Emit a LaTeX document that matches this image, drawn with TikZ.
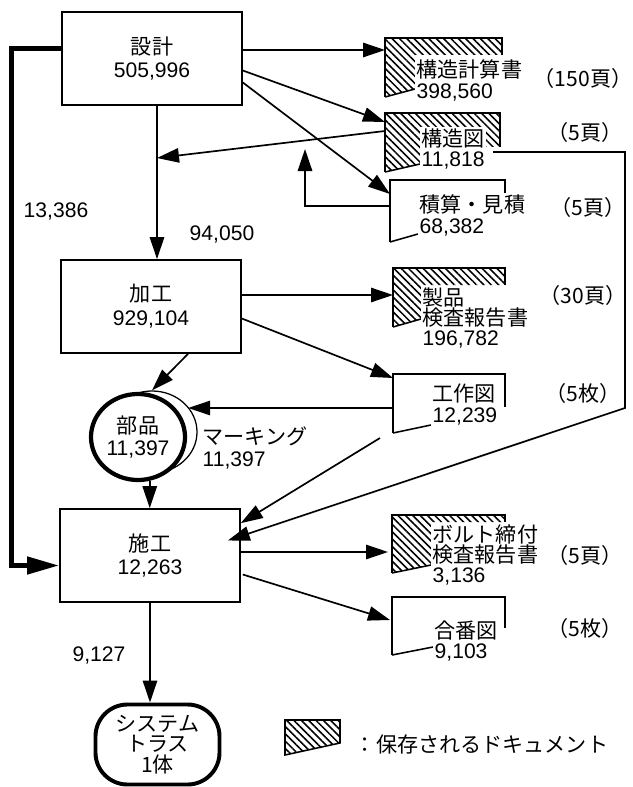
\documentclass[tikz,border=0pt]{standalone}
\usepackage{fontspec}
\setmainfont{Liberation Sans}
\newfontfamily\jp{Noto Sans CJK JP}
\usepackage{tikz}
\usetikzlibrary{
    arrows.meta,
    positioning,
    calc,
    patterns.meta,
    shapes.geometric
}
\tikzset{
    every node/.style={font=\fontsize{15}{17}\selectfont},
    box/.style={draw, line width=1.1pt, fill=white, minimum width=4.5cm, minimum height=2.33cm, align=center},
    doctext/.style={anchor=west, align=left, fill=white, inner sep=1pt, font=\fontsize{15}{14.5}\selectfont},
    arr/.style={line width=1.2pt, -{Triangle[length=0.55cm,width=0.36cm]}},
    thickarr/.style={line width=3.5pt, -{Triangle[length=0.8cm,width=0.42cm]}},
    hatch/.style={pattern={Lines[angle=-45,distance=3.7pt,line width=1.1pt]}}
}
% document sheet: [fill] left, top, right, bottom, right edge end, text edge
\newcommand{\docsheet}[7][]{%
    \path[#1] (#2,#5) -- (#2,#3) -- (#4,#3) -- (#4,#6) -- (#7,#6) -- (#7,#5-8) -- cycle;
    \draw[line width=1.1pt] (#2,#5) -- (#2,#3) -- (#4,#3) -- (#4,#6);
    \draw[line width=1.1pt] (#2,#5) -- (#7,#5-8);
}

\begin{document}
\begin{tikzpicture}[x=0.025cm, y=-0.025cm]
    \useasboundingbox (0,0) rectangle (632,787);

    % Process boxes
    \node[box] (sekkei) at (152,58.5) {{\jp 設計}\\505,996};
    \node[box] (kakou) at (151,306.5) {{\jp 加工}\\929,104};
    \node[box] (sekou) at (150,555.5) {{\jp 施工}\\12,263};
    \node[draw, line width=2.8pt, rounded corners=0.8cm, minimum width=3.1cm, minimum height=2cm,
          align=center, inner sep=0pt, font=\fontsize{15}{14.5}\selectfont\jp] (truss) at (157.5,744.5)
          {システム\\トラス\\1体};

    % Parts and marking
    \node[ellipse, draw, line width=0.9pt, fill=white, minimum width=2.25cm, minimum height=2.05cm] (mark) at (152,432) {};
    \node[ellipse, draw, line width=3pt, fill=white, minimum width=2.35cm, minimum height=2.15cm,
          inner sep=0pt, align=center, font=\fontsize{15}{15}\selectfont] (buhin) at (138,437) {{\jp 部品}\\11,397};
    \node[anchor=west, align=left, inner sep=1pt, font=\fontsize{15}{15.5}\selectfont] (marking) at (201,448) {{\jp マーキング}\\11,397};

    % Flow values
    \node (v13386) at (56,211) {13,386};
    \node (v94050) at (222,234) {94,050};
    \node (v9127) at (99,655) {9,127};

    % Documents
    \docsheet[hatch]{385}{38}{502}{97}{55}{415}
    \node[doctext] (keisan) at (415,80.5) {{\jp 構造計算書}\\398,560};
    \node[inner sep=0pt] (p1) at (583,78) {\jp （150頁）};

    \docsheet[hatch]{385}{113}{500}{172}{147}{420}
    \node[doctext] (kouzouzu) at (420,149) {{\jp 構造図}\\11,818};
    \node (p2) at (585,132) {\jp （5頁）};

    \docsheet{390}{180}{505}{242}{193}{418}
    \node[doctext] (sekisan) at (418,215.5) {{\jp 積算・見積}\\68,382};
    \node (p3) at (588,207) {\jp （5頁）};

    \docsheet[hatch]{393}{268}{505}{327}{285}{421}
    \node[doctext] (seihin) at (421,318) {{\jp 製品}\\{\jp 検査報告書}\\196,782};
    \node (p4) at (583,295) {\jp （30頁）};

    \docsheet{393}{374}{505}{433}{407}{431}
    \node[doctext] (kousakuzu) at (431,404.5) {{\jp 工作図}\\12,239};
    \node (p5) at (583,393) {\jp （5枚）};

    \docsheet[hatch]{392}{515}{505}{573}{522}{431}
    \node[doctext] (bolt) at (431,555) {{\jp ボルト締付}\\{\jp 検査報告書}\\3,136};
    \node (p6) at (585,555) {\jp （5頁）};

    \docsheet{392}{597}{505}{655}{628}{433}
    \node[doctext] (aiban) at (433,641) {{\jp 合番図}\\9,103};
    \node (p7) at (585,628) {\jp （5枚）};

    % Legend
    \path[hatch] (285,755) -- (285,720) -- (340,720) -- (340,743) -- cycle;
    \draw[line width=1.1pt] (285,755) -- (285,720) -- (340,720) -- (340,743) -- cycle;
    \node[anchor=west] (legend) at (350,744) {\jp ：保存されるドキュメント};

    % Connector ends at the documents
    \coordinate (d1in) at (385,50);
    \coordinate (d2in) at (385,122);
    \coordinate (d2back) at (385,131);
    \coordinate (d2out) at (493,152);
    \coordinate (d3in) at (390,194);
    \coordinate (d3back) at (390,206);
    \coordinate (d4in) at (393,295);
    \coordinate (d5in) at (393,378);
    \coordinate (d5back) at (393,408);
    \coordinate (d5out) at (380,438);
    \coordinate (d6in) at (388,552);
    \coordinate (d7in) at (390,620);
    \coordinate (jn) at (157,158);

    % Design
    \draw[arr] (sekkei.east |- d1in) -- (d1in);
    \draw[arr] ($(sekkei.east)+(0,12)$) -- (d2in);
    \draw[arr] ($(sekkei.east)+(0,24)$) -- (d3in);
    \draw[arr] (sekkei.south -| jn) -- (kakou.north -| jn);
    \draw[arr] (d2back) -- (jn);
    \draw[arr] (d3back) -- ++(-85,0) -- ++(0,-57);
    \draw[thickarr] ($(sekkei.west)+(0,-10)$) -- ++(-50,0) |- ($(sekou.west)+(0,10)$);

    % Fabrication
    \draw[arr] (kakou.east |- d4in) -- (d4in);
    \draw[arr] ($(kakou.east)+(0,12)$) -- (d5in);
    \draw[arr] ($(kakou.south)+(37,0)$) -- (mark.north);
    \draw[arr] (d5back) -- (d5back -| mark.35);
    \draw[arr] (d5out) -- ($(sekou.north east)+(0,15)$);
    \draw[arr] (d2out) -- ++(132,0) -- ++(0,256) -- ($(sekou.east)+(-13,-15)$);
    \draw[arr] (buhin.-75) -- (buhin.-75 |- sekou.north);

    % Erection
    \draw[arr] (sekou.east |- d6in) -- (d6in);
    \draw[arr] ($(sekou.east)+(2,19)$) -- (d7in);
    \draw[arr] (sekou.south) -- (sekou.south |- truss.north);
\end{tikzpicture}
\end{document}
